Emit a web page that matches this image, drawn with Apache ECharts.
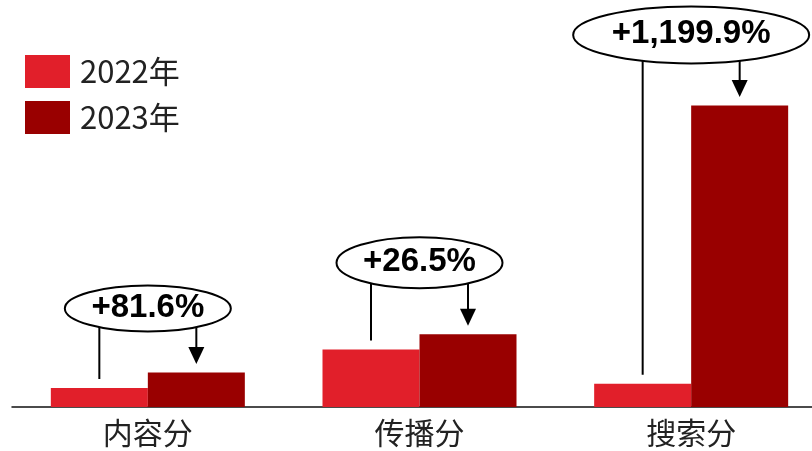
<!DOCTYPE html>
<html>
<head>
<meta charset="utf-8">
<script src="https://cdn.jsdelivr.net/npm/echarts@6/dist/echarts.min.js"></script>
<style>
  html, body { margin: 0; padding: 0; background: #ffffff; }
  #chart { width: 812px; height: 451px; }
</style>
</head>
<body>
<div id="chart"></div>
<script>
// Score categories and yearly values
const categories = ['内容分', '传播分', '搜索分'];
const seriesNames = ['2022年', '2023年'];
const values2022 = [19.0, 57.5, 23.2];
const values2023 = [34.5, 72.74, 301.58];

// Callout boxes around the growth labels (ellipse radii, gap above the 2023 bar)
const calloutBoxes = [
  { rx: 83, ry: 23, gap: 41 },
  { rx: 83, ry: 25.5, gap: 46 },
  { rx: 118, ry: 28.5, gap: 42 }
];

const COLOR_2022 = '#e11f2a';
const COLOR_2023 = '#990000';
const BAR_WIDTH = 97;

function growthLabel(a, b) {
  const pct = (b / a - 1) * 100;
  return '+' + pct.toLocaleString('en-US', { minimumFractionDigits: 1, maximumFractionDigits: 1 }) + '%';
}

const calloutData = categories.map((c, i) => [i, values2022[i], values2023[i]]);

function renderCallout(params, api) {
  const i = params.dataIndex;
  const v22 = api.value(1);
  const v23 = api.value(2);
  const box = calloutBoxes[i];
  const cx = api.coord([i, 0])[0];
  const x22 = cx - BAR_WIDTH / 2;
  const x23 = cx + BAR_WIDTH / 2;
  const top22 = api.coord([i, v22])[1];
  const top23 = api.coord([i, v23])[1];
  const ellBottom = top23 - box.gap;
  const cy = ellBottom - box.ry;
  const tipY = top23 - 8.5;
  const headH = 17, headW = 16;
  const lineStyle = { stroke: '#000', lineWidth: 2, fill: null };
  return {
    type: 'group',
    children: [
      { type: 'line', shape: { x1: x22, y1: cy, x2: x22, y2: top22 - 9 }, style: lineStyle },
      { type: 'line', shape: { x1: x23, y1: cy, x2: x23, y2: tipY - headH + 1 }, style: lineStyle },
      { type: 'polygon', shape: { points: [[x23 - headW / 2, tipY - headH], [x23 + headW / 2, tipY - headH], [x23, tipY]] }, style: { fill: '#000' } },
      { type: 'ellipse', shape: { cx: cx, cy: cy, rx: box.rx, ry: box.ry }, style: { fill: '#fff', stroke: '#000', lineWidth: 2 } },
      {
        type: 'text',
        style: {
          x: cx, y: cy - 1,
          text: growthLabel(v22, v23),
          align: 'center', verticalAlign: 'middle',
          font: 'bold 33px "Liberation Sans", Arial, sans-serif',
          fill: '#000'
        }
      }
    ]
  };
}

const chart = echarts.init(document.getElementById('chart'), null, { renderer: 'canvas' });
chart.setOption({
  animation: false,
  backgroundColor: '#ffffff',
  grid: { left: 12, top: 7, width: 815, height: 400, outerBoundsMode: 'none', containLabel: false },
  legend: {
    data: seriesNames,
    orient: 'vertical',
    left: 20, top: 50,
    itemWidth: 45, itemHeight: 33, itemGap: 13,
    icon: 'rect',
    textStyle: { fontSize: 31, color: '#222', fontFamily: '"Noto Sans CJK SC", sans-serif', padding: [0, 0, 0, 5] }
  },
  xAxis: {
    type: 'category',
    data: categories,
    axisTick: { show: false },
    axisLine: { lineStyle: { color: '#111', width: 1.5 } },
    axisLabel: { fontSize: 30, color: '#222', margin: 11, fontFamily: '"Noto Sans CJK SC", sans-serif' }
  },
  yAxis: { type: 'value', min: 0, max: 400, show: false, splitLine: { show: false } },
  series: [
    { name: seriesNames[0], type: 'bar', data: values2022, barWidth: BAR_WIDTH, barGap: '0%', itemStyle: { color: COLOR_2022 } },
    { name: seriesNames[1], type: 'bar', data: values2023, barWidth: BAR_WIDTH, barGap: '0%', itemStyle: { color: COLOR_2023 } },
    {
      name: 'callouts', type: 'custom', data: calloutData,
      encode: { x: 0, y: [1, 2] },
      renderItem: renderCallout, clip: false, silent: true, z: 5
    }
  ]
});
</script>
</body>
</html>
